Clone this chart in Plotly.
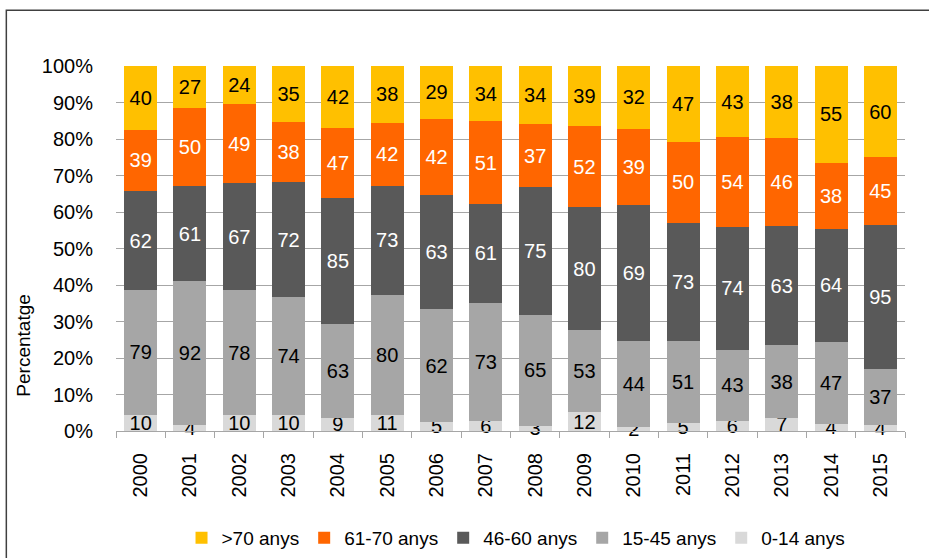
import plotly.graph_objects as go

years = [str(y) for y in range(2000, 2016)]
age_0_14 = [10, 4, 10, 10, 9, 11, 5, 6, 3, 12, 2, 5, 6, 7, 4, 4]
age_15_45 = [79, 92, 78, 74, 63, 80, 62, 73, 65, 53, 44, 51, 43, 38, 47, 37]
age_46_60 = [62, 61, 67, 72, 85, 73, 63, 61, 75, 80, 69, 73, 74, 63, 64, 95]
age_61_70 = [39, 50, 49, 38, 47, 42, 42, 51, 37, 52, 39, 50, 54, 46, 38, 45]
age_70p = [40, 27, 24, 35, 42, 38, 29, 34, 34, 39, 32, 47, 43, 38, 55, 60]
y_ticks = list(range(0, 101, 10))
y_tick_labels = [f"{v}%" for v in y_ticks]

series = [
    ("0-14 anys", age_0_14, "#D9D9D9", "black"),
    ("15-45 anys", age_15_45, "#A6A6A6", "black"),
    ("46-60 anys", age_46_60, "#595959", "white"),
    ("61-70 anys", age_61_70, "#FF6600", "white"),
    (">70 anys", age_70p, "#FFC000", "black"),
]

FONT = "Liberation Sans, Arial, sans-serif"

fig = go.Figure()
for name, vals, color, tcol in series:
    fig.add_trace(go.Bar(
        x=years, y=vals, name=name,
        marker=dict(color=color, line=dict(width=0)),
        text=[str(v) for v in vals],
        textposition="inside",
        insidetextanchor="middle",
        constraintext="none",
        textangle=0,
        textfont=dict(family=FONT, size=20, color=tcol),
        cliponaxis=False,
    ))

fig.update_layout(
    barmode="stack",
    barnorm="percent",
    bargap=0.33,
    width=929, height=558,
    margin=dict(l=116, r=24, t=66, b=127, autoexpand=False),
    paper_bgcolor="white",
    plot_bgcolor="white",
    font=dict(family=FONT, size=20, color="black"),
    legend=dict(
        orientation="h", traceorder="reversed",
        x=0.507, xanchor="center", y=-0.293, yanchor="middle",
        font=dict(family=FONT, size=19, color="black"),
        itemwidth=30, tracegroupgap=0,
    ),
    showlegend=True,
)

fig.update_yaxes(
    range=[0, 100.02], tickvals=y_ticks, ticktext=y_tick_labels,
    showgrid=True, gridcolor="#A6A6A6", gridwidth=1,
    zeroline=False, showline=False, automargin=False,
    tickfont=dict(family=FONT, size=20, color="black"),
    ticks="", ticklabelstandoff=22,
)
fig.update_xaxes(
    tickangle=-90, showline=True, linecolor="#A6A6A6", linewidth=1,
    ticks="outside", tickson="boundaries", ticklen=6, tickcolor="#A6A6A6",
    tickfont=dict(family=FONT, size=20, color="black"),
    showgrid=False, automargin=False, ticklabelstandoff=13,
)

fig.add_annotation(
    text="Percentatge", textangle=-90, showarrow=False,
    xref="paper", yref="paper", x=-0.117, y=0.233,
    xanchor="center", yanchor="middle",
    font=dict(family=FONT, size=19, color="black"),
)

fig.add_shape(
    type="rect", xref="paper", yref="paper",
    x0=-0.139, x1=1.05, y0=-0.4, y1=1.153,
    line=dict(color="#404040", width=1.5), fillcolor="rgba(0,0,0,0)",
    layer="below",
)

fig.write_html("out.html", config={"displayModeBar": False},
               post_script="document.body.style.margin='0px';")
